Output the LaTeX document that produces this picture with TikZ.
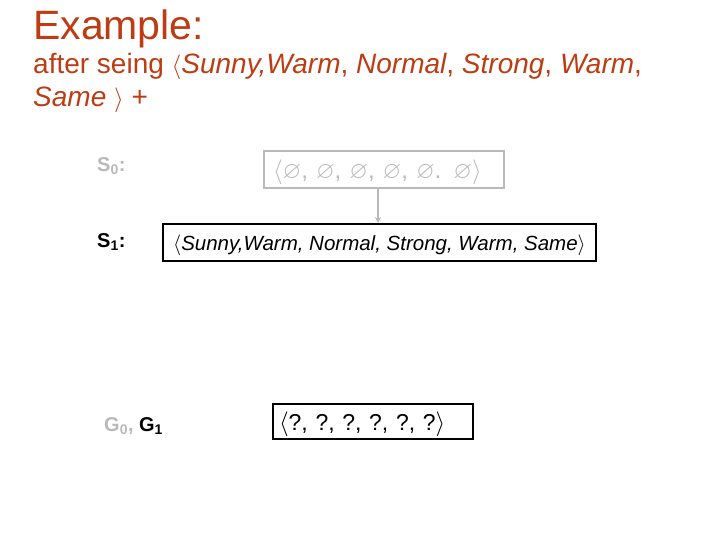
\documentclass[tikz,border=0pt]{standalone}
\usepackage{amssymb}
\usepackage{fontspec}
\setmainfont{Liberation Sans}
\usetikzlibrary{arrows.meta}
\definecolor{titlered}{RGB}{190,60,20}
\definecolor{lgray}{RGB}{185,185,185}
\tikzset{
  x=1pt,y=-1pt,
  lbl/.style={anchor=west,inner sep=0pt,font=\fontsize{20}{22}\selectfont\bfseries},
  hbox/.style={draw,line width=2pt,anchor=north west,align=left,text depth=0pt},
}
\begin{document}
\begin{tikzpicture}
\useasboundingbox (0,0) rectangle (720,540);
\node[anchor=base west,inner sep=0pt,text=titlered,font=\fontsize{41}{44}\selectfont] (title) at (33,40) {Example:};
\node[anchor=base west,inner sep=0pt,text=titlered,font=\fontsize{28}{30}\selectfont] (l1) at (33,74)
  {after seing $\langle$\textit{Sunny,Warm}, \textit{Normal}, \textit{Strong}, \textit{Warm},};
\node[anchor=base west,inner sep=0pt,text=titlered,font=\fontsize{28}{30}\selectfont] (l2) at (33,107)
  {\textit{Same} $\rangle$ +};
\node[lbl,text=lgray] (s0l) at (97,166) {S\textsubscript{0}:};
\node[lbl] (s1l) at (97,242) {S\textsubscript{1}:};
\node[lbl,anchor=west] (gl) at (104,426) {\textcolor{lgray}{G\textsubscript{0},} G\textsubscript{1}};
\node[hbox,draw=lgray,text=lgray,minimum height=37,text width=222,inner xsep=9pt,font=\fontsize{24}{26}\selectfont] (s0) at (263,150)
  {$\langle\varnothing$, $\varnothing$, $\varnothing$, $\varnothing$, $\varnothing$. $\varnothing\rangle$};
\node[hbox,minimum height=37,minimum width=433,inner xsep=2pt,font=\fontsize{20.5}{22}\selectfont] (s1) at (162,223)
  {$\langle$\textit{Sunny,Warm, Normal, Strong, Warm, Same}$\rangle$};
\node[hbox,minimum height=35,text width=188,inner xsep=6pt,font=\fontsize{23}{26}\selectfont] (g) at (272,403)
  {$\langle$?, ?, ?, ?, ?, ?$\rangle$};
\draw[lgray,line width=1.5pt,-{Stealth[length=6pt,width=6pt]}] (s0.south -| 378,0) -- (s1.north -| 378,0);
\end{tikzpicture}
\end{document}
